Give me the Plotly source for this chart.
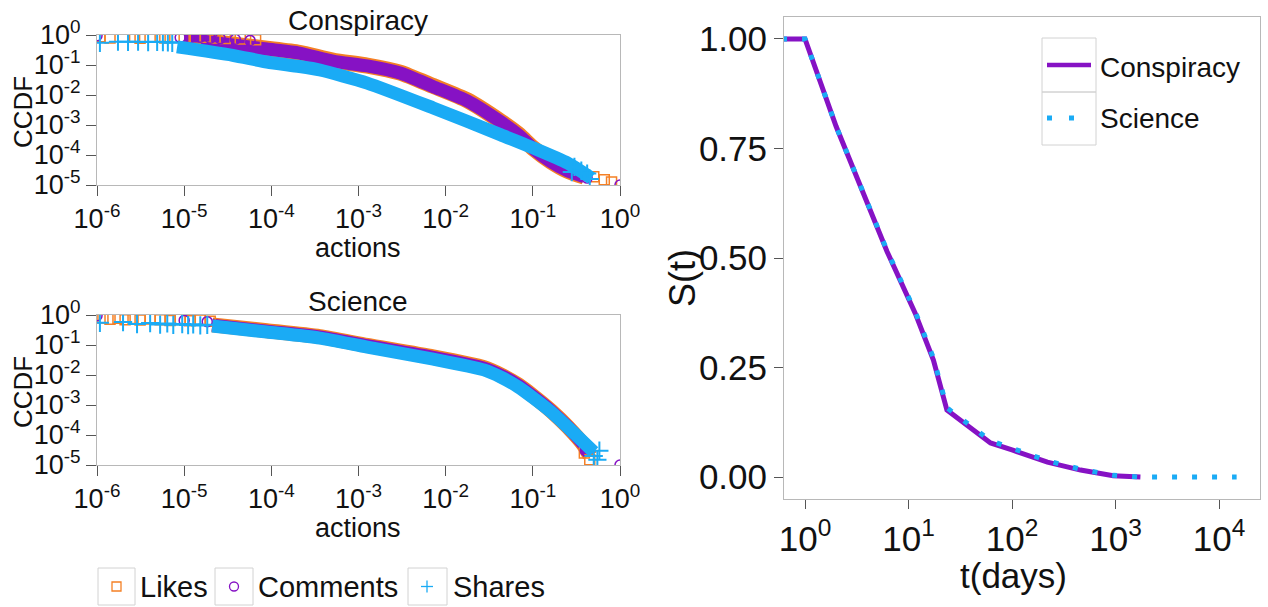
import plotly.graph_objects as go

W, H = 1268, 607

# ---------------- data ----------------
# Conspiracy CCDF (actions normalised)
consp_band_x = [1.0e-5, 3.6e-5, 8.9e-5, 2.1e-4, 5.1e-4, 1.26e-3, 3.0e-3, 7.2e-3, 0.0178, 0.043, 0.068, 0.102, 0.162, 0.25, 0.39]
consp_likes_y = [0.76, 0.48, 0.35, 0.255, 0.14, 0.096, 0.056, 0.02, 6.6e-3, 1.3e-3, 4.9e-4, 1.65e-4, 6.1e-5, 3.0e-5, 1.9e-5]
consp_comments_y = [0.74, 0.47, 0.34, 0.25, 0.135, 0.093, 0.054, 0.019, 6.3e-3, 1.26e-3, 4.7e-4, 1.6e-4, 5.9e-5, 2.95e-5, 1.86e-5]
consp_shares_x = [8.3e-6, 3.6e-5, 8.9e-5, 2.1e-4, 3.6e-4, 1.26e-3, 7.2e-3, 0.043, 0.102, 0.25, 0.47]
consp_shares_y = [0.40, 0.21, 0.126, 0.089, 0.068, 0.025, 3.7e-3, 4.7e-4, 1.7e-4, 5.4e-5, 1.7e-5]

consp_likes_pts_x = [1.08e-6, 1.41e-6, 2.7e-6, 3.12e-6, 5.3e-6, 6.0e-6, 1.0e-5, 1.34e-5, 1.75e-5, 2.27e-5, 2.96e-5, 4.4e-5, 6.6e-5, 0.50, 0.66, 0.80]
consp_likes_pts_y = [0.88, 0.80, 0.84, 0.78, 0.86, 0.80, 0.82, 0.78, 0.84, 0.80, 0.76, 0.74, 0.70, 1.9e-5, 1.5e-5, 1.25e-5]
consp_comments_pts_x = [1.0e-6, 9.0e-6, 1.17e-5, 1.53e-5, 1.99e-5, 2.59e-5, 3.86e-5, 5.7e-5, 0.42, 1.0]
consp_comments_pts_y = [0.95, 0.82, 0.80, 0.84, 0.78, 0.76, 0.72, 0.66, 1.7e-5, 1.0e-5]
consp_shares_pts_x = [1.08e-6, 1.74e-6, 2.27e-6, 2.96e-6, 3.86e-6, 4.9e-6, 5.7e-6, 6.5e-6, 7.3e-6, 0.28, 0.30, 0.36, 0.42, 0.45]
consp_shares_pts_y = [0.55, 0.60, 0.59, 0.60, 0.58, 0.59, 0.58, 0.57, 0.55, 2.7e-5, 4.0e-5, 3.0e-5, 2.4e-5, 1.6e-5]

# Science CCDF
sci_band_x = [2.1e-5, 8.9e-5, 3.6e-4, 1.26e-3, 7.2e-3, 0.0275, 0.043, 0.068, 0.102, 0.162, 0.25, 0.39, 0.45]
sci_likes_y = [0.47, 0.30, 0.19, 0.097, 0.040, 0.0175, 0.0100, 4.7e-3, 1.95e-3, 6.4e-4, 1.9e-4, 4.3e-5, 2.0e-5]
sci_comments_y = [0.46, 0.29, 0.185, 0.095, 0.039, 0.017, 0.0098, 4.6e-3, 1.9e-3, 6.3e-4, 1.9e-4, 4.5e-5, 2.2e-5]
sci_shares_x = [2.1e-5, 8.9e-5, 3.6e-4, 1.26e-3, 7.2e-3, 0.0275, 0.043, 0.068, 0.102, 0.162, 0.25, 0.39, 0.50]
sci_shares_y = [0.43, 0.27, 0.17, 0.085, 0.034, 0.0148, 8.5e-3, 4.0e-3, 1.7e-3, 5.9e-4, 1.86e-4, 5.4e-5, 2.7e-5]

sci_likes_pts_x = [1.17e-6, 1.41e-6, 1.74e-6, 2.1e-6, 2.59e-6, 3.12e-6, 4.07e-6, 5.3e-6, 6.9e-6, 9.0e-6, 1.17e-5, 1.53e-5, 1.99e-5, 0.39, 0.45]
sci_likes_pts_y = [0.80, 0.72, 0.78, 0.70, 0.76, 0.68, 0.74, 0.70, 0.66, 0.72, 0.64, 0.68, 0.62, 2.5e-5, 1.5e-5]
sci_comments_pts_x = [1.0e-6, 1.0e-5, 1.84e-5, 0.40, 1.0]
sci_comments_pts_y = [0.95, 0.66, 0.60, 3.0e-5, 1.0e-5]
sci_shares_pts_x = [1.08e-6, 1.99e-6, 2.88e-6, 4.07e-6, 5.3e-6, 6.4e-6, 7.5e-6, 9.5e-6, 1.11e-5, 1.27e-5, 1.53e-5, 1.84e-5, 0.50, 0.55, 0.58]
sci_shares_pts_y = [0.55, 0.58, 0.50, 0.54, 0.48, 0.52, 0.47, 0.50, 0.46, 0.49, 0.45, 0.47, 2.0e-5, 1.5e-5, 3.0e-5]

# Survival curves
t_consp = [0.6, 1, 2.0, 3.5, 6.2, 11.6, 17.4, 23.5, 62, 100, 220, 460, 950, 1740]
s_consp = [1.0, 1.0, 0.80, 0.66, 0.515, 0.374, 0.267, 0.153, 0.078, 0.062, 0.034, 0.016, 0.003, 0.0]
t_sci = [0.6, 1, 2.0, 3.5, 6.2, 11.6, 17.4, 23.5, 62, 100, 220, 460, 950, 1740, 14800]
s_sci = [1.0, 1.0, 0.80, 0.66, 0.517, 0.378, 0.272, 0.158, 0.083, 0.066, 0.037, 0.018, 0.004, 0.0, 0.0]

# tick labels
ccdf_x_ticks = [1e-6, 1e-5, 1e-4, 1e-3, 1e-2, 1e-1, 1]
ccdf_x_text = ["10<sup>-6</sup>", "10<sup>-5</sup>", "10<sup>-4</sup>", "10<sup>-3</sup>",
               "10<sup>-2</sup>", "10<sup>-1</sup>", "10<sup>0</sup>"]
ccdf_y_ticks = [1e-5, 1e-4, 1e-3, 1e-2, 1e-1, 1]
ccdf_y_text = ["10<sup>-5</sup>", "10<sup>-4</sup>", "10<sup>-3</sup>", "10<sup>-2</sup>",
               "10<sup>-1</sup>", "10<sup>0</sup>"]
surv_x_ticks = [1, 10, 100, 1000, 10000]
surv_x_text = ["10<sup>0</sup>", "10<sup>1</sup>", "10<sup>2</sup>", "10<sup>3</sup>", "10<sup>4</sup>"]
surv_y_ticks = [0, 0.25, 0.5, 0.75, 1.0]
surv_y_text = ["0.00", "0.25", "0.50", "0.75", "1.00"]

# ---------------- styling ----------------
ORANGE = "#F58025"
PURPLE = "#8612C4"
BLUE = "#1AABF5"
FONT = "Liberation Sans, Arial, Helvetica, sans-serif"
TXT = "#111111"
FRAME = "#b8b8b8"
TICK = "#555555"


def px(x):
    return x / W


def py(y):
    return 1 - y / H


fig = go.Figure()


def band(x, y, color, width, xa, ya):
    fig.add_trace(go.Scatter(x=x, y=y, mode="lines", line=dict(color=color, width=width, shape="spline", smoothing=0.6),
                             xaxis=xa, yaxis=ya, showlegend=False, hoverinfo="skip"))


def pts(x, y, symbol, color, size, xa, ya, lw=1.5):
    fig.add_trace(go.Scatter(x=x, y=y, mode="markers",
                             marker=dict(symbol=symbol, size=size, color=color, line=dict(width=lw, color=color)),
                             xaxis=xa, yaxis=ya, showlegend=False, hoverinfo="skip"))


# Conspiracy CCDF panel
band(consp_band_x, consp_likes_y, ORANGE, 16, "x", "y")
band(consp_band_x, consp_comments_y, PURPLE, 13, "x", "y")
pts(consp_likes_pts_x, consp_likes_pts_y, "square-open", ORANGE, 10, "x", "y")
pts(consp_comments_pts_x, consp_comments_pts_y, "circle-open", PURPLE, 10, "x", "y")
band(consp_shares_x, consp_shares_y, BLUE, 13, "x", "y")
pts(consp_shares_pts_x, consp_shares_pts_y, "cross-thin-open", BLUE, 13, "x", "y", lw=2)

# Science CCDF panel
band(sci_band_x, sci_likes_y, ORANGE, 15, "x2", "y2")
band(sci_band_x, sci_comments_y, PURPLE, 13, "x2", "y2")
pts(sci_likes_pts_x, sci_likes_pts_y, "square-open", ORANGE, 10, "x2", "y2")
pts(sci_comments_pts_x, sci_comments_pts_y, "circle-open", PURPLE, 10, "x2", "y2")
band(sci_shares_x, sci_shares_y, BLUE, 13, "x2", "y2")
pts(sci_shares_pts_x, sci_shares_pts_y, "cross-thin-open", BLUE, 13, "x2", "y2", lw=2)

# Survival panel
fig.add_trace(go.Scatter(x=t_consp, y=s_consp, mode="lines", name="Conspiracy",
                         line=dict(color=PURPLE, width=5), xaxis="x3", yaxis="y3", showlegend=False))
fig.add_trace(go.Scatter(x=t_sci, y=s_sci, mode="lines", name="Science",
                         line=dict(color=BLUE, width=5, dash="5px,15px"), xaxis="x3", yaxis="y3", showlegend=False))

common_ax = dict(showgrid=False, zeroline=False, showline=True, mirror=True, linecolor=FRAME, linewidth=1,
                 ticks="outside", tickcolor=TICK, tickwidth=1, automargin=False)

left_dom_x = [px(97), px(620)]
LT = 27
fig.update_layout(
    xaxis=dict(common_ax, type="log", range=[-6, 0], domain=left_dom_x, anchor="y",
               tickvals=ccdf_x_ticks, ticktext=ccdf_x_text, ticklen=10,
               tickfont=dict(family=FONT, size=LT, color=TXT)),
    yaxis=dict(common_ax, type="log", range=[-5, 0], domain=[py(185), py(35)], anchor="x",
               tickvals=ccdf_y_ticks, ticktext=ccdf_y_text, ticklen=10,
               tickfont=dict(family=FONT, size=LT, color=TXT)),
    xaxis2=dict(common_ax, type="log", range=[-6, 0], domain=left_dom_x, anchor="y2",
                tickvals=ccdf_x_ticks, ticktext=ccdf_x_text, ticklen=10,
                tickfont=dict(family=FONT, size=LT, color=TXT)),
    yaxis2=dict(common_ax, type="log", range=[-5, 0], domain=[py(465), py(315)], anchor="x2",
                tickvals=ccdf_y_ticks, ticktext=ccdf_y_text, ticklen=10,
                tickfont=dict(family=FONT, size=LT, color=TXT)),
    xaxis3=dict(common_ax, type="log", range=[-0.203, 4.396], domain=[px(784), px(1260)], anchor="y3",
                tickvals=surv_x_ticks, ticktext=surv_x_text, ticklen=9,
                tickfont=dict(family=FONT, size=35, color=TXT)),
    yaxis3=dict(common_ax, range=[-0.05, 1.05], domain=[py(499), py(17)], anchor="x3",
                tickvals=surv_y_ticks, ticktext=surv_y_text, ticklen=9,
                tickfont=dict(family=FONT, size=35, color=TXT)),
    width=W, height=H, autosize=False,
    margin=dict(l=0, r=0, t=0, b=0),
    paper_bgcolor="white", plot_bgcolor="white",
    showlegend=False,
    font=dict(family=FONT, color=TXT),
)

annotations = []


def label(text, x, y, size, angle=0, xanchor="center"):
    annotations.append(dict(text=text, x=px(x), y=py(y), xref="paper", yref="paper", showarrow=False,
                            xanchor=xanchor, yanchor="middle", textangle=angle,
                            font=dict(family=FONT, size=size, color=TXT)))


label("Conspiracy", 358, 21, 28)
label("actions", 358, 248, 27)
label("CCDF", 23, 112, 26, angle=-90)
label("Science", 358, 301, 28)
label("actions", 358, 528, 27)
label("CCDF", 23, 392, 26, angle=-90)
label("S(t)", 683, 278, 36, angle=-90)
label("t(days)", 1013, 575, 35)

# bottom-left legend text
label("Likes", 138, 587, 29, xanchor="left")
label("Comments", 256, 587, 29, xanchor="left")
label("Shares", 451, 587, 29, xanchor="left")
# right legend text
label("Conspiracy", 1098, 67, 28, xanchor="left")
label("Science", 1098, 118, 28, xanchor="left")

shapes = []


def rect(x0, y0, x1, y1, color="#d2d2d2", width=1):
    shapes.append(dict(type="rect", xref="paper", yref="paper", x0=px(x0), x1=px(x1), y0=py(y1), y1=py(y0),
                       line=dict(color=color, width=width), fillcolor="rgba(0,0,0,0)"))


def seg(x0, y0, x1, y1, color, width, dash="solid"):
    shapes.append(dict(type="line", xref="paper", yref="paper", x0=px(x0), x1=px(x1), y0=py(y0), y1=py(y1),
                       line=dict(color=color, width=width, dash=dash)))


# bottom-left legend keys
rect(98, 568, 135, 605)
rect(215, 568, 253, 605)
rect(408, 568, 447, 605)
rect(112, 582, 121, 591, color=ORANGE, width=1.3)
shapes.append(dict(type="circle", xref="paper", yref="paper", x0=px(229.5), x1=px(238.5), y0=py(591), y1=py(582),
                   line=dict(color=PURPLE, width=1.3)))
seg(421, 586.5, 433, 586.5, BLUE, 1.3)
seg(427, 580.5, 427, 592.5, BLUE, 1.3)

# right legend keys
rect(1042, 38, 1096, 92)
rect(1042, 92, 1096, 145)
seg(1047, 65, 1091, 65, PURPLE, 4.5)
seg(1047, 118, 1091, 118, BLUE, 5, dash="5px,17px")

fig.update_layout(annotations=annotations, shapes=shapes)

fig.write_html("out.html")
